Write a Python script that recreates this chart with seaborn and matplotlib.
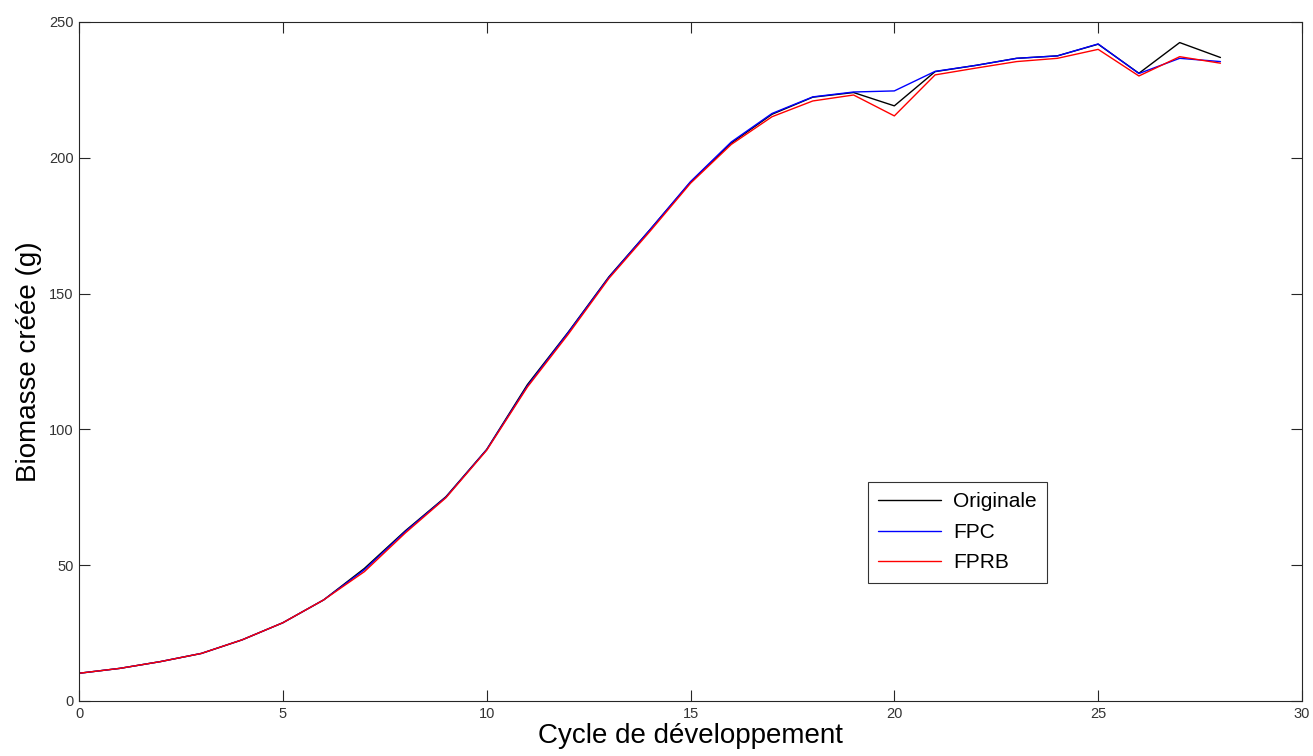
import pandas as pd
import matplotlib
matplotlib.use('Agg')
import matplotlib.pyplot as plt
import seaborn as sns

# cycles 0..28
cycles = list(range(29))

originale = [10.2, 12.0, 14.5, 17.5, 22.5, 28.8, 37.2, 48.8, 62.6, 75.2,
             92.6, 116.5, 135.8, 156.2, 173.4, 191.0, 205.4, 216.0, 222.3, 224.0,
             219.1, 231.7, 234.0, 236.6, 237.5, 241.8, 231.1, 242.4, 236.9]
fpc = [10.2, 12.0, 14.5, 17.5, 22.5, 28.8, 37.2, 48.3, 62.3, 75.0,
       92.5, 116.0, 135.6, 156.0, 173.4, 191.2, 205.8, 216.3, 222.4, 224.2,
       224.6, 231.8, 234.0, 236.6, 237.5, 241.9, 231.0, 236.6, 235.4]
fprb = [10.2, 12.0, 14.5, 17.5, 22.5, 28.8, 37.2, 47.6, 61.8, 74.8,
        92.3, 115.6, 135.0, 155.6, 172.8, 190.6, 204.9, 215.1, 220.9, 223.1,
        215.4, 230.5, 233.0, 235.4, 236.6, 239.9, 230.1, 237.2, 234.8]

series_names = ['Originale', 'FPC', 'FPRB']
series_colors = ['black', 'blue', 'red']

df = pd.DataFrame({'cycle': cycles * 3,
                   'biomasse': originale + fpc + fprb,
                   'serie': [n for n in series_names for _ in cycles]})

sns.set_style('ticks')
plt.rcParams['font.family'] = ['Liberation Sans', 'DejaVu Sans']
plt.rcParams['text.color'] = 'black'
plt.rcParams['axes.labelcolor'] = 'black'

fig = plt.figure(figsize=(13.13, 7.56), dpi=100)
ax = fig.add_axes([0.0602, 0.0728, 0.9314, 0.8982])

sns.lineplot(data=df, x='cycle', y='biomasse', hue='serie',
             palette=dict(zip(series_names, series_colors)),
             linewidth=1.0, ax=ax)

ax.set_xlim(0, 30)
ax.set_ylim(0, 250)
ax.set_xticks(range(0, 31, 5))
ax.set_yticks(range(0, 251, 50))
ax.tick_params(direction='in', length=8, width=0.8, labelsize=10.5,
               top=True, right=True, labelcolor='#333333', pad=4)
for s in ax.spines.values():
    s.set_visible(True)
    s.set_linewidth(0.8)

ax.set_xlabel('Cycle de développement', fontsize=20, labelpad=2)
ax.set_ylabel('Biomasse créée (g)', fontsize=20, labelpad=5)

leg = ax.legend(loc='upper left', bbox_to_anchor=(0.645, 0.3225),
                borderaxespad=0,
                fontsize=15, frameon=True, fancybox=False, edgecolor='black',
                handlelength=3.0, borderpad=0.5, labelspacing=0.55,
                handletextpad=0.6)
leg.get_frame().set_linewidth(0.8)

fig.savefig('out.png', dpi=100)
